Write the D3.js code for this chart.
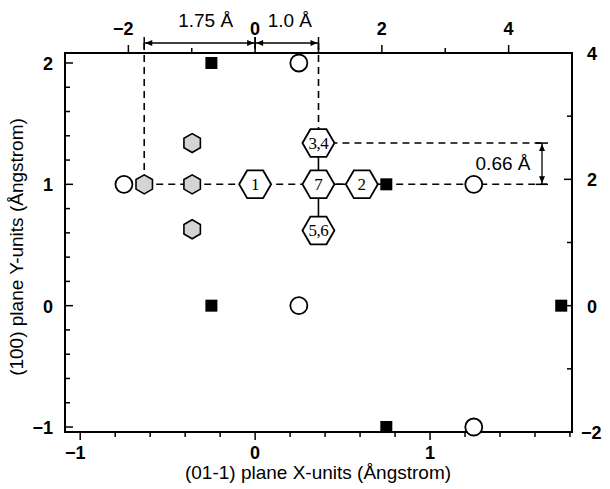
<!DOCTYPE html>
<html><head><meta charset="utf-8">
<script src="https://cdn.jsdelivr.net/npm/d3@7"></script>
<style>body{margin:0;background:#fff}</style>
</head><body>
<svg id="c" width="610" height="489"></svg>
<script>
// ---- data ----
const angPerX = 2.76;   // Å per X-unit
const angPerY = 1.921;  // Å per Y-unit
const topTicks = [-2, -1, 0, 1, 2, 3, 4];
const topTickLabels = [-2, 0, 2, 4];
const rightTicks = [-2, -1, 0, 1, 2, 3, 4];
const rightTickLabels = [-2, 0, 2, 4];
const bottomTickLabels = [-1, 0, 1];
const leftTickLabels = [-1, 0, 1, 2];
const squareX = [-0.25, 0.75, -0.25, 0.75, 1.75];
const squareY = [2, 1, 0, -1, 0];
const circleX = [0.25, -0.75, 1.25, 0.25, 1.25];
const circleY = [2, 1, 1, 0, -1];
const hexLabels = ["1", "7", "2", "3,4", "5,6"];
const hexX = [0, 0.362, 0.61, 0.362, 0.362];
const hexY = [1, 1, 1, 1.34, 0.62];
const grayX = [-0.634, -0.36, -0.36, -0.36];
const grayY = [1, 1, 1.34, 0.63];
const dimTop = [[-1.75, 0, "1.75 Å"], [0, 1.0, "1.0 Å"]];
const dimRight = [1.921, 2.574, "0.66 Å"];
const xLabel = "(01-1) plane X-units (Ångstrom)";
const yLabel = "(100) plane Y-units (Ångstrom)";

// ---- layout ----
const L = 65, R = 572, T = 53, B = 432;
const svg = d3.select("#c");
const xA = d3.scaleLinear().domain([-3, 5]).range([L, R]);
const x = d3.scaleLinear().domain([-3 / angPerX, 5 / angPerX]).range([L, R]);
const yA = d3.scaleLinear().domain([-2, 4]).range([B, T]);
const y = d3.scaleLinear().domain([-2 / angPerY, 4 / angPerY]).range([B, T]);
const font = "'Liberation Sans', Arial, sans-serif";
const tickFs = 18, titleFs = 19;
const fmt = d => d < 0 ? "\u2212" + (-d) : String(d);

// frame
svg.append("rect").attr("x", L).attr("y", T).attr("width", R - L).attr("height", B - T)
  .attr("fill", "none").attr("stroke", "#000").attr("stroke-width", 2);

// bottom ticks (outward)
const bt = d3.range(-1, 1.81, 0.2).map(v => Math.round(v * 10) / 10);
svg.append("g").selectAll("line").data(bt).join("line")
  .attr("x1", d => x(d)).attr("x2", d => x(d)).attr("y1", B)
  .attr("y2", d => B + (Number.isInteger(d) ? 8 : 5)).attr("stroke", "#000").attr("stroke-width", 1.5);
svg.append("g").selectAll("text").data(bottomTickLabels).join("text")
  .attr("x", d => x(d) - (d < 0 ? 5 : 0)).attr("y", 459).attr("text-anchor", "middle")
  .attr("font-family", font).attr("font-weight", "bold").attr("font-size", tickFs)
  .text(fmt);

// left ticks (inward)
const lt = d3.range(-1, 2.01, 0.2).map(v => Math.round(v * 10) / 10);
svg.append("g").selectAll("line").data(lt).join("line")
  .attr("y1", d => y(d)).attr("y2", d => y(d)).attr("x1", L)
  .attr("x2", d => L + (Number.isInteger(d) ? 8 : 5)).attr("stroke", "#000").attr("stroke-width", 1.5);
svg.append("g").selectAll("text").data(leftTickLabels).join("text")
  .attr("x", 53).attr("y", d => y(d) + 7).attr("text-anchor", "end")
  .attr("font-family", font).attr("font-weight", "bold").attr("font-size", tickFs)
  .text(fmt);

// top ticks (outward)
svg.append("g").selectAll("line").data(topTicks).join("line")
  .attr("x1", d => xA(d)).attr("x2", d => xA(d)).attr("y1", T)
  .attr("y2", d => T - (d % 2 === 0 ? 8 : 5)).attr("stroke", "#000").attr("stroke-width", 1.5);
svg.append("g").selectAll("text").data(topTickLabels).join("text")
  .attr("x", d => xA(d) - (d < 0 ? 5 : 0)).attr("y", 35).attr("text-anchor", "middle")
  .attr("font-family", font).attr("font-weight", "bold").attr("font-size", tickFs)
  .text(fmt);

// right ticks (inward)
svg.append("g").selectAll("line").data(rightTicks).join("line")
  .attr("y1", d => yA(d)).attr("y2", d => yA(d)).attr("x1", R)
  .attr("x2", d => R - (d % 2 === 0 ? 8 : 5)).attr("stroke", "#000").attr("stroke-width", 1.5);
svg.append("g").selectAll("text").data(rightTickLabels).join("text")
  .attr("x", d => d < 0 ? 581 : 587).attr("y", d => yA(d) + 7).attr("text-anchor", "start")
  .attr("font-family", font).attr("font-weight", "bold").attr("font-size", tickFs)
  .text(fmt);

// axis titles
svg.append("text").attr("x", 318).attr("y", 479).attr("text-anchor", "middle")
  .attr("font-family", font).attr("font-size", titleFs).text(xLabel);
svg.append("text").attr("transform", "translate(23,247) rotate(-90)").attr("text-anchor", "middle")
  .attr("font-family", font).attr("font-size", titleFs).text(yLabel);

// ---- guide lines ----
const dash = "7,5";
const g = svg.append("g").attr("stroke", "#000").attr("stroke-width", 1.6);
const xEnd = 547;
g.append("line").attr("x1", x(grayX[0])).attr("x2", xEnd).attr("y1", y(1)).attr("y2", y(1)).attr("stroke-dasharray", dash);
g.append("line").attr("x1", x(hexX[3])).attr("x2", xEnd).attr("y1", y(hexY[3])).attr("y2", y(hexY[3])).attr("stroke-dasharray", dash);
g.append("line").attr("x1", xA(-1.75)).attr("x2", xA(-1.75)).attr("y1", 43).attr("y2", y(1)).attr("stroke-dasharray", dash);
g.append("line").attr("x1", xA(1.0)).attr("x2", xA(1.0)).attr("y1", 43).attr("y2", y(hexY[3])).attr("stroke-dasharray", dash);
g.append("line").attr("x1", x(hexX[1])).attr("x2", x(hexX[1])).attr("y1", y(hexY[3])).attr("y2", y(hexY[4]));
g.append("line").attr("x1", x(hexX[1])).attr("x2", x(squareX[1])).attr("y1", y(1)).attr("y2", y(1));

// ---- dimension arrows ----
const ah = (x0, y0, dir, horiz) => {
  if (horiz) return `M${x0},${y0}L${x0 + dir * 7},${y0 - 3}L${x0 + dir * 7},${y0 + 3}Z`;
  return `M${x0},${y0}L${x0 - 3},${y0 + dir * 7}L${x0 + 3},${y0 + dir * 7}Z`;
};
const dy = 43;
dimTop.forEach(([a, b, lab]) => {
  const x1 = xA(a), x2 = xA(b);
  svg.append("line").attr("x1", x1).attr("x2", x2).attr("y1", dy).attr("y2", dy).attr("stroke", "#000").attr("stroke-width", 1.3);
  svg.append("path").attr("d", ah(x1 + 1, dy, 1, true)).attr("fill", "#000");
  svg.append("path").attr("d", ah(x2 - 1, dy, -1, true)).attr("fill", "#000");
  [x1, x2].forEach(xx => svg.append("line").attr("x1", xx).attr("x2", xx).attr("y1", dy - 6).attr("y2", dy + 6).attr("stroke", "#000").attr("stroke-width", 1.5));
  svg.append("text").attr("x", (x1 + x2) / 2 + (lab === "1.0 Å" ? 3 : 6)).attr("y", 27).attr("text-anchor", "middle")
    .attr("font-family", font).attr("font-size", titleFs).text(lab);
});
{
  const xx = 542, y1 = yA(dimRight[0]), y2 = yA(dimRight[1]);
  svg.append("line").attr("x1", xx).attr("x2", xx).attr("y1", y1).attr("y2", y2).attr("stroke", "#000").attr("stroke-width", 1.3);
  svg.append("path").attr("d", ah(xx, y2 + 1, 1, false)).attr("fill", "#000");
  svg.append("path").attr("d", ah(xx, y1 - 1, -1, false)).attr("fill", "#000");
  [y1, y2].forEach(yy => svg.append("line").attr("x1", xx - 6).attr("x2", xx + 6).attr("y1", yy).attr("y2", yy).attr("stroke", "#000").attr("stroke-width", 1.5));
  svg.append("text").attr("x", 503).attr("y", (y1 + y2) / 2 + 6).attr("text-anchor", "middle")
    .attr("font-family", font).attr("font-size", titleFs).text(dimRight[2]);
}

// ---- markers ----
const hexPath = (r, flat) => {
  const pts = d3.range(6).map(i => {
    const a = (flat ? 0 : Math.PI / 6) + i * Math.PI / 3;
    return [r * Math.cos(a), r * Math.sin(a)];
  });
  return "M" + pts.map(p => p.join(",")).join("L") + "Z";
};
svg.append("g").selectAll("path").data(grayX.map((v, i) => [v, grayY[i]])).join("path")
  .attr("transform", d => `translate(${x(d[0])},${y(d[1])})`)
  .attr("d", hexPath(9.5, false)).attr("fill", "#d4d4d4").attr("stroke", "#000").attr("stroke-width", 1.6);
const hg = svg.append("g").selectAll("g").data(hexLabels.map((l, i) => [hexX[i], hexY[i], l])).join("g")
  .attr("transform", d => `translate(${x(d[0])},${y(d[1])})`);
hg.append("path").attr("d", hexPath(16, true)).attr("fill", "#fff").attr("stroke", "#000").attr("stroke-width", 1.8);
hg.append("text").attr("y", 6).attr("text-anchor", "middle")
  .attr("font-family", "'Liberation Serif', 'Times New Roman', serif").attr("font-size", 17)
  .attr("letter-spacing", d => d[2].length > 1 ? -0.5 : 0)
  .text(d => d[2]);
svg.append("g").selectAll("circle").data(circleX.map((v, i) => [v, circleY[i]])).join("circle")
  .attr("cx", d => x(d[0])).attr("cy", d => y(d[1])).attr("r", 8.5)
  .attr("fill", "#fff").attr("stroke", "#000").attr("stroke-width", 1.8);
svg.append("g").selectAll("rect").data(squareX.map((v, i) => [v, squareY[i]])).join("rect")
  .attr("x", d => x(d[0]) - 6).attr("y", d => y(d[1]) - 6).attr("width", 12).attr("height", 12).attr("fill", "#000");
</script>
</body></html>
